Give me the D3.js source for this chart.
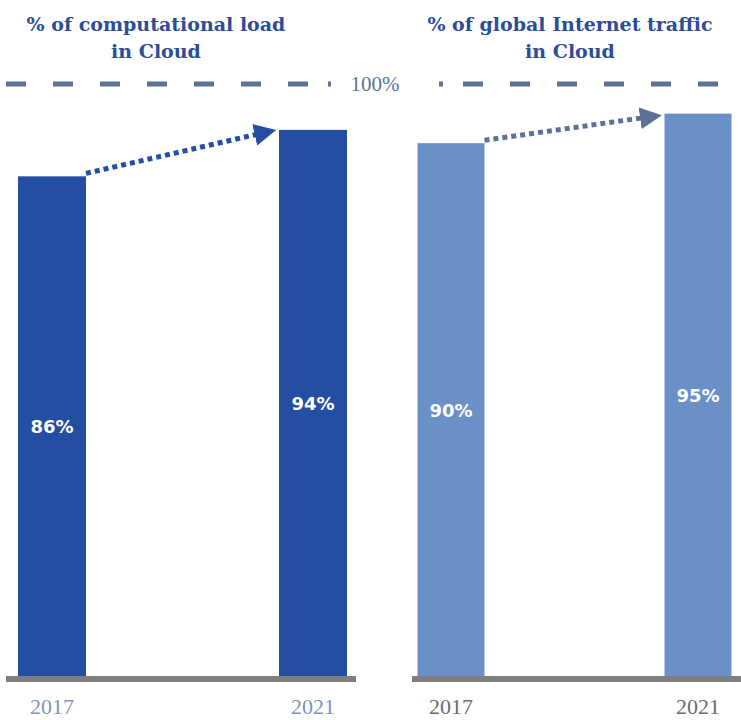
<!DOCTYPE html>
<html>
<head>
<meta charset="utf-8">
<script src="https://cdn.jsdelivr.net/npm/d3@7"></script>
<style>
  html, body { margin: 0; padding: 0; background: #ffffff; }
  svg { display: block; }
</style>
</head>
<body>
<svg id="chart" width="741" height="720"></svg>
<script>
// Share of workloads / traffic in cloud, 2017 vs 2021
const years = ["2017", "2021"];
const computeLoad = [86, 94];
const internetTraffic = [90, 95];
const panelTitles = [
  ["% of computational load", "in Cloud"],
  ["% of global Internet traffic", "in Cloud"]
];
const referenceValue = 100;
const referenceLabel = "100%";

const svg = d3.select("#chart");
const baseY = 676;

const panels = [
  {
    values: computeLoad, title: panelTitles[0],
    x0: 6, x1: 356, barW: 68, barCenters: [52, 313], yTop: 95,
    barColor: "#234ea1", arrowColor: "#234ea1", yearColor: "#7f94b8",
    titleX: 156
  },
  {
    values: internetTraffic, title: panelTitles[1],
    x0: 412, x1: 741, barW: 67, barCenters: [451, 698], yTop: 84,
    barColor: "#6a90c7", arrowColor: "#5c7196", yearColor: "#6b6b6b",
    titleX: 570
  }
];

const defs = svg.append("defs");

panels.forEach((p, pi) => {
  const y = d3.scaleLinear().domain([0, 100]).range([baseY, p.yTop]);
  const x = d3.scalePoint().domain(years).range(p.barCenters);
  const g = svg.append("g");

  // title
  const t = g.append("text")
    .attr("x", p.titleX)
    .attr("text-anchor", "middle")
    .attr("fill", "#2b4d9a")
    .style("font-family", "'DejaVu Serif', serif")
    .style("font-weight", "bold")
    .style("font-size", "19px");
  p.title.forEach((line, i) => {
    t.append("tspan").attr("x", p.titleX).attr("y", 31 + i * 27).text(line);
  });

  // bars
  g.selectAll("rect.bar")
    .data(p.values)
    .join("rect")
    .attr("class", "bar")
    .attr("x", (d, i) => x(years[i]) - p.barW / 2)
    .attr("y", d => y(d))
    .attr("width", p.barW)
    .attr("height", d => baseY - y(d))
    .attr("fill", p.barColor);

  // value labels, centred in each bar
  g.selectAll("text.val")
    .data(p.values)
    .join("text")
    .attr("class", "val")
    .attr("x", (d, i) => x(years[i]))
    .attr("y", d => (y(d) + baseY) / 2 + 7)
    .attr("text-anchor", "middle")
    .attr("fill", "#ffffff")
    .style("font-family", "'DejaVu Sans', sans-serif")
    .style("font-weight", "bold")
    .style("font-size", "18px")
    .text(d => d + "%");

  // baseline
  g.append("rect")
    .attr("x", p.x0).attr("y", baseY)
    .attr("width", p.x1 - p.x0).attr("height", 6)
    .attr("fill", "#7f7f7f");

  // year labels
  g.selectAll("text.year")
    .data(years)
    .join("text")
    .attr("class", "year")
    .attr("x", d => x(d))
    .attr("y", 714)
    .attr("text-anchor", "middle")
    .attr("fill", p.yearColor)
    .style("font-family", "'Liberation Serif', serif")
    .style("font-size", "22px")
    .text(d => d);

  // dotted growth arrow from first bar to second
  const markerId = "head" + pi;
  defs.append("marker")
    .attr("id", markerId)
    .attr("viewBox", "0 0 10 10")
    .attr("refX", 2).attr("refY", 5)
    .attr("markerWidth", 4.4).attr("markerHeight", 4.4)
    .attr("markerUnits", "strokeWidth")
    .attr("orient", "auto")
    .append("path")
    .attr("d", "M0,0 L10,5 L0,10 Z")
    .attr("fill", p.arrowColor);

  const xs = x(years[0]) + p.barW / 2, ys = y(p.values[0]) - 3;
  const xe = x(years[1]) - p.barW / 2 - 20, ye = y(p.values[1]) + 4;
  g.append("line")
    .attr("x1", xs).attr("y1", ys)
    .attr("x2", xe).attr("y2", ye)
    .attr("stroke", p.arrowColor)
    .attr("stroke-width", 5)
    .attr("stroke-dasharray", "5,4")
    .attr("marker-end", `url(#${markerId})`);
});

// 100% reference line
const refY = d3.scaleLinear().domain([0, 100]).range([baseY, panels[1].yTop])(referenceValue);
const refColor = "#5d7396";
const dashed = [[6, 308], [463, 741]];
dashed.forEach(([a, b]) => {
  svg.append("line")
    .attr("x1", a).attr("x2", b).attr("y1", refY).attr("y2", refY)
    .attr("stroke", refColor).attr("stroke-width", 5)
    .attr("stroke-dasharray", "20,27");
});
[[328, 331], [439, 443]].forEach(([a, b]) => {
  svg.append("line")
    .attr("x1", a).attr("x2", b).attr("y1", refY).attr("y2", refY)
    .attr("stroke", refColor).attr("stroke-width", 5);
});
svg.append("text")
  .attr("x", 375).attr("y", refY + 7)
  .attr("text-anchor", "middle")
  .attr("fill", refColor)
  .style("font-family", "'Liberation Serif', serif")
  .style("font-size", "21px")
  .text(referenceLabel);
</script>
</body>
</html>
